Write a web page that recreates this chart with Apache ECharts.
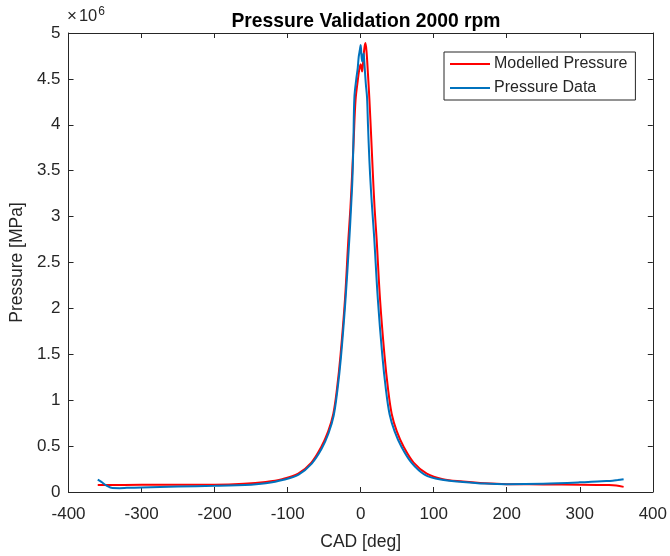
<!DOCTYPE html>
<html>
<head>
<meta charset="utf-8">
<script src="https://cdn.jsdelivr.net/npm/echarts@6/dist/echarts.min.js"></script>
<style>
html,body{margin:0;padding:0;background:#fff;}
#c{width:670px;height:556px;}
</style>
</head>
<body>
<div id="c"></div>
<script>
// Modelled pressure (CAD deg, Pa)
const cadModel = [-360,-300,-250,-200,-160,-130,-107.5,-85.5,-67.5,-54,-44.5,-37.5,-32.5,-27.5,-21.5,-16.8,-14,-11.5,-9.5,-7,-4,-2,0,1,2,3.5,5,6.5,8,10,12,14.5,16.5,19,21.8,26.5,32.5,37.5,42.5,49.5,59,72.5,90.5,112.5,140,170,200,250,300,340,350,360];
const pModel   = [0.075e6,0.078e6,0.079e6,0.08e6,0.09e6,0.11e6,0.14e6,0.2e6,0.32e6,0.49e6,0.66e6,0.85e6,1.12e6,1.5e6,2.1e6,2.76e6,3.1e6,3.5e6,3.85e6,4.27e6,4.48e6,4.6e6,4.66e6,4.62e6,4.58e6,4.7e6,4.83e6,4.89e6,4.8e6,4.55e6,4.27e6,3.85e6,3.5e6,3.1e6,2.76e6,2.1e6,1.5e6,1.12e6,0.85e6,0.66e6,0.49e6,0.32e6,0.2e6,0.14e6,0.115e6,0.095e6,0.085e6,0.083e6,0.08e6,0.075e6,0.07e6,0.056e6];
// Measured pressure data (CAD deg, Pa)
const cadData = [-360,-355,-348,-340,-330,-320,-300,-250,-200,-150,-130,-107,-85,-67,-53.5,-44,-37,-32,-27,-21,-15.5,-13.5,-11.3,-10,-8.6,-6,-4,-2.7,-1,0,1,2,3,4,5,7,8.7,10,12,14,16.5,18.6,23.5,29.5,34.5,39.5,46.5,56,69.5,87.5,109.5,140,170,200,250,300,330,345,352,360];
const pData   = [0.135e6,0.11e6,0.07e6,0.043e6,0.042e6,0.045e6,0.05e6,0.06e6,0.067e6,0.08e6,0.095e6,0.13e6,0.19e6,0.31e6,0.47e6,0.64e6,0.83e6,1.1e6,1.47e6,2.07e6,2.76e6,3.05e6,3.41e6,3.8e6,4.3e6,4.5e6,4.62e6,4.74e6,4.82e6,4.87e6,4.76e6,4.69e6,4.74e6,4.78e6,4.68e6,4.45e6,4.3e6,4.0e6,3.6e6,3.3e6,3.0e6,2.76e6,2.1e6,1.5e6,1.12e6,0.85e6,0.66e6,0.49e6,0.32e6,0.19e6,0.135e6,0.11e6,0.092e6,0.085e6,0.09e6,0.105e6,0.118e6,0.122e6,0.13e6,0.14e6];
const xTicks = {min:-400, max:400, step:100};
const yTicks = {min:0, max:5e6, step:0.5e6};

const font = 'Liberation Sans, Arial, Helvetica, sans-serif';
const axisColor = '#262626';
const chart = echarts.init(document.getElementById('c'));
function pairs(xs, ys){ return xs.map((x,i)=>[x, ys[i]]); }
const yFmt = v => String(+(v/1e6).toFixed(1));

chart.setOption({
  animation:false,
  backgroundColor:'#fff',
  title:{
    text:'Pressure Validation 2000 rpm', left:361, top:7, textAlign:'center',
    textStyle:{fontFamily:font, fontSize:19.3, fontWeight:'bold', color:'#000'}
  },
  grid:{left:66, right:15, top:33, bottom:61, containLabel:false},
  legend:{
    orient:'vertical', left:444, top:52, padding:[4,8,4,6],
    itemWidth:40, itemHeight:2, itemGap:8, icon:'rect',
    borderColor:axisColor, borderWidth:1, backgroundColor:'#fff',
    textStyle:{fontFamily:font, fontSize:16, color:axisColor, padding:[0,0,0,-1]},
    data:['Modelled Pressure','Pressure Data']
  },
  xAxis:[{
    type:'value', min:xTicks.min, max:xTicks.max, interval:xTicks.step,
    name:'CAD [deg]', nameLocation:'middle', nameGap:41,
    nameTextStyle:{fontFamily:font, fontSize:17.5, color:axisColor},
    axisLine:{show:true, onZero:false, lineStyle:{color:axisColor, width:1}},
    axisTick:{show:true, inside:true, length:5, lineStyle:{color:axisColor}},
    axisLabel:{fontFamily:font, fontSize:17, color:axisColor, margin:14},
    splitLine:{show:false}
  },{
    type:'value', position:'top', min:xTicks.min, max:xTicks.max, interval:xTicks.step,
    axisLine:{show:true, onZero:false, lineStyle:{color:axisColor, width:1}},
    axisTick:{show:true, inside:true, length:5, lineStyle:{color:axisColor}},
    axisLabel:{show:false}, splitLine:{show:false}
  }],
  yAxis:[{
    type:'value', min:yTicks.min, max:yTicks.max, interval:yTicks.step,
    name:'Pressure [MPa]', nameLocation:'middle', nameGap:38,
    nameTextStyle:{fontFamily:font, fontSize:17.5, color:axisColor},
    axisLine:{show:true, onZero:false, lineStyle:{color:axisColor, width:1}},
    axisTick:{show:true, inside:true, length:5, lineStyle:{color:axisColor}},
    axisLabel:{fontFamily:font, fontSize:17, color:axisColor, margin:8, formatter:yFmt},
    splitLine:{show:false}
  },{
    type:'value', position:'right', min:yTicks.min, max:yTicks.max, interval:yTicks.step,
    axisLine:{show:true, onZero:false, lineStyle:{color:axisColor, width:1}},
    axisTick:{show:true, inside:true, length:5, lineStyle:{color:axisColor}},
    axisLabel:{show:false}, splitLine:{show:false}
  }],
  graphic:[{
    type:'text', left:67, top:6,
    style:{
      text:'{a|×}{c|10}{b|6}', fontFamily:font,
      rich:{
        a:{fontSize:17, fontFamily:font, fill:axisColor, color:axisColor, padding:[0,2,0,0]},
        c:{fontSize:16.5, fontFamily:font, fill:axisColor, color:axisColor},
        b:{fontSize:12, fontFamily:font, fill:axisColor, color:axisColor, verticalAlign:'top', padding:[0,0,9,1]}
      }
    }
  }],
  series:[{
    name:'Modelled Pressure', type:'line', data:pairs(cadModel,pModel),
    showSymbol:false, symbol:'none', smooth:0.35,
    lineStyle:{color:'#ff0000', width:2}, itemStyle:{color:'#ff0000'}, z:2
  },{
    name:'Pressure Data', type:'line', data:pairs(cadData,pData),
    showSymbol:false, symbol:'none', smooth:0.35,
    lineStyle:{color:'#0072bd', width:2}, itemStyle:{color:'#0072bd'}, z:3
  }]
});
</script>
</body>
</html>
